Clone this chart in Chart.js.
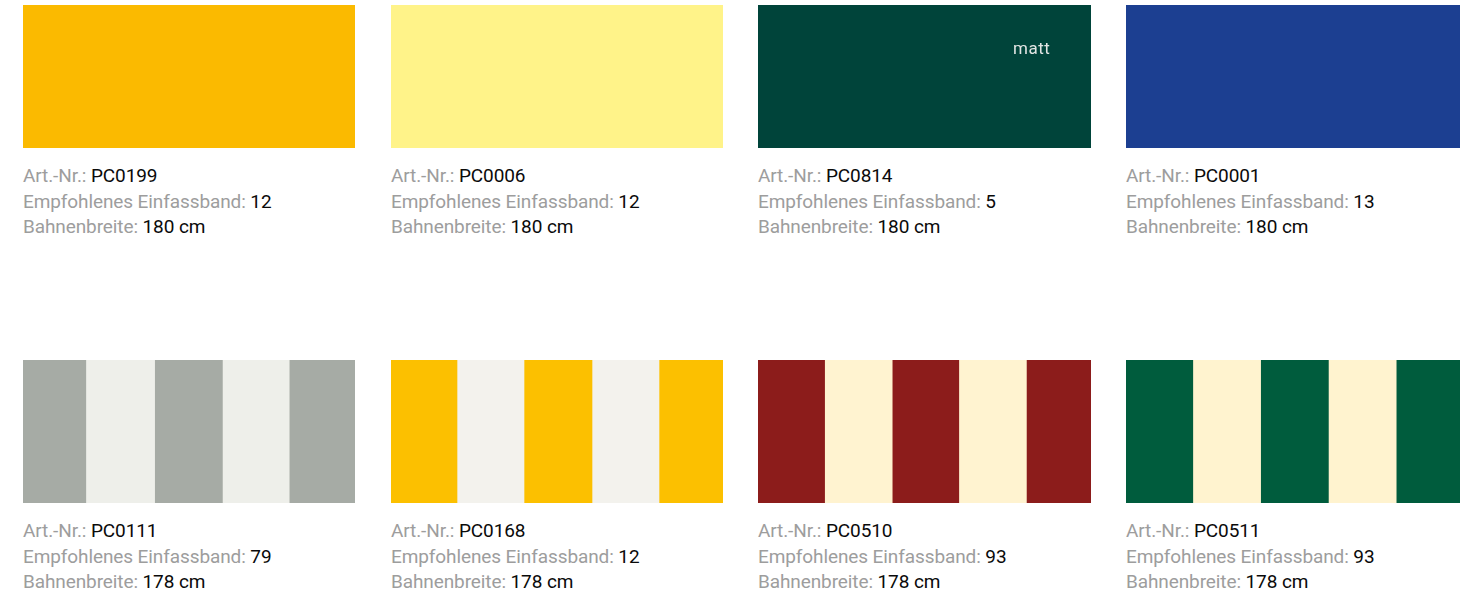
<!DOCTYPE html>
<html>
<head>
<meta charset="utf-8">
<script src="https://cdn.jsdelivr.net/npm/chart.js@4"></script>
<style>
  html, body { margin: 0; padding: 0; background: #fff; }
  body { width: 1468px; height: 596px; position: relative; overflow: hidden; }
  .swatch { position: absolute; height: 143px; }
  .info {
    position: absolute; width: 340px;
    font-family: "Roboto", sans-serif;
    font-size: 19px; line-height: 25.5px; color: #9d9d9d;
    letter-spacing: -0.1px;
  }
  .info b { font-weight: normal; color: #0a0a0a; }
  .matt {
    position: absolute; left: 1013px; top: 38px;
    font-family: "Roboto", sans-serif; font-size: 17px; color: #e2e6e4;
    letter-spacing: 0.5px;
  }
</style>
</head>
<body>
<div id="grid"></div>
<div class="matt">matt</div>
<script>
// fabric samples, left to right, top to bottom
const artNr = ['PC0199', 'PC0006', 'PC0814', 'PC0001', 'PC0111', 'PC0168', 'PC0510', 'PC0511'];
const einfassband = [12, 12, 5, 13, 79, 12, 93, 93];
const bahnenbreite = [180, 180, 180, 180, 178, 178, 178, 178];
// stripe widths across each swatch (solid fabrics = one stripe)
const stripes = [
  [1],
  [1],
  [1],
  [1],
  [63, 69, 68, 67, 66],
  [66, 67, 68, 67, 64],
  [67, 68, 67, 68, 65],
  [67, 68, 68, 68, 64]
];

// colours per stripe
const stripeColors = [
  ['#fbba00'],
  ['#fff389'],
  ['#00443a'],
  ['#1c3f91'],
  ['#a6aba5', '#eeefea', '#a6aba5', '#eeefea', '#a6aba5'],
  ['#fcc000', '#f3f2ed', '#fcc000', '#f3f2ed', '#fcc000'],
  ['#8c1c1b', '#fff3d0', '#8c1c1b', '#fff3d0', '#8c1c1b'],
  ['#005c3d', '#fff3cf', '#005c3d', '#fff3cf', '#005c3d']
];

const colLeft = [23, 391, 758, 1126];
const colWidth = [332, 332, 333, 334];
const rowTop = [5, 360];

const grid = document.getElementById('grid');

artNr.forEach((nr, i) => {
  const col = i % 4;
  const row = Math.floor(i / 4);

  const box = document.createElement('div');
  box.className = 'swatch';
  box.style.left = colLeft[col] + 'px';
  box.style.top = rowTop[row] + 'px';
  box.style.width = colWidth[col] + 'px';
  box.innerHTML = '<canvas></canvas>';
  grid.appendChild(box);

  const info = document.createElement('div');
  info.className = 'info';
  info.style.left = colLeft[col] + 'px';
  info.style.top = (rowTop[row] + 158) + 'px';
  info.innerHTML =
    'Art.-Nr.: <b>' + nr + '</b><br>' +
    'Empfohlenes Einfassband: <b>' + einfassband[i] + '</b><br>' +
    'Bahnenbreite: <b>' + bahnenbreite[i] + ' cm</b>';
  grid.appendChild(info);

  const widths = stripes[i];
  const total = widths.reduce((a, b) => a + b, 0);

  new Chart(box.querySelector('canvas'), {
    type: 'bar',
    data: {
      labels: [nr],
      datasets: widths.map((w, k) => ({
        label: nr + '-' + k,
        data: [w],
        backgroundColor: stripeColors[i][k],
        borderWidth: 0,
        barPercentage: 1,
        categoryPercentage: 1
      }))
    },
    options: {
      indexAxis: 'y',
      responsive: true,
      maintainAspectRatio: false,
      animation: false,
      layout: { padding: 0 },
      plugins: {
        legend: { display: false },
        tooltip: { enabled: false }
      },
      scales: {
        x: { stacked: true, display: false, min: 0, max: total },
        y: { stacked: true, display: false }
      }
    }
  });
});
</script>
</body>
</html>
